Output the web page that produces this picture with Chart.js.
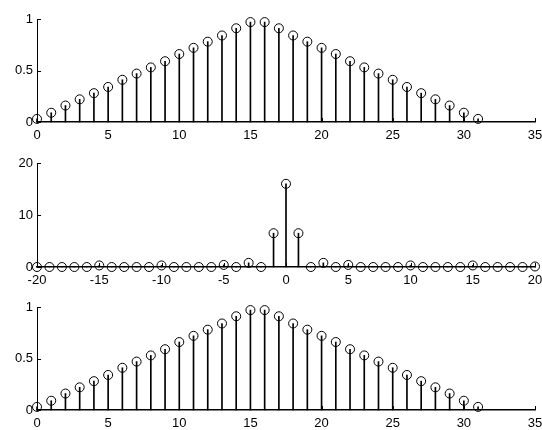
<!DOCTYPE html>
<html>
<head>
<meta charset="utf-8">
<script src="https://cdn.jsdelivr.net/npm/chart.js@4.4.1/dist/chart.umd.min.js"></script>
<style>
  html, body { margin: 0; padding: 0; background: #fff; }
  #wrap { position: relative; width: 542px; height: 430px; }
  #wrap canvas { position: absolute; left: 0; top: 0; }
</style>
</head>
<body>
<div id="wrap">
  <canvas id="win1" width="542" height="430"></canvas>
  <canvas id="spec" width="542" height="430"></canvas>
  <canvas id="win2" width="542" height="430"></canvas>
</div>
<script>
// triangular window, n = 0..31
const nWin = [0,1,2,3,4,5,6,7,8,9,10,11,12,13,14,15,16,17,18,19,20,21,22,23,24,25,26,27,28,29,30,31];
const wTop = [0.03,0.09,0.16,0.22,0.28,0.34,0.41,0.47,0.53,0.59,0.66,0.72,0.78,0.84,0.91,0.97,
              0.97,0.91,0.84,0.78,0.72,0.66,0.59,0.53,0.47,0.41,0.34,0.28,0.22,0.16,0.09,0.03];
const wBottom = [0.03,0.09,0.16,0.22,0.28,0.34,0.41,0.47,0.53,0.59,0.66,0.72,0.78,0.84,0.91,0.97,
                 0.97,0.91,0.84,0.78,0.72,0.66,0.59,0.53,0.47,0.41,0.34,0.28,0.22,0.16,0.09,0.03];

// spectrum magnitude, k = -20..20
const kSpec = [-20,-19,-18,-17,-16,-15,-14,-13,-12,-11,-10,-9,-8,-7,-6,-5,-4,-3,-2,-1,
               0,1,2,3,4,5,6,7,8,9,10,11,12,13,14,15,16,17,18,19,20];
const magSpec = [0,0,0,0,0,0.3,0,0,0,0,0.3,0,0,0,0,0.4,0,0.8,0,6.5,
                 16,6.5,0,0.8,0,0.4,0,0,0,0,0.3,0,0,0,0,0.3,0,0,0,0,0.1];

const xTicksWin = [0,5,10,15,20,25,30,35];
const yTicksWin = [0,0.5,1];
const xTicksSpec = [-20,-15,-10,-5,0,5,10,15,20];
const yTicksSpec = [0,10,20];

const FONT = { family: 'Liberation Sans, Arial, sans-serif', size: 13 };

// matlab style ticks pointing into the plot
const innerTicks = {
  id: 'innerTicks',
  afterDraw(chart) {
    const { ctx, chartArea, scales } = chart;
    ctx.save();
    ctx.strokeStyle = '#000';
    ctx.lineWidth = 1;
    ctx.beginPath();
    scales.x.ticks.forEach(t => {
      const px = Math.round(scales.x.getPixelForValue(t.value)) + 0.5;
      ctx.moveTo(px, chartArea.bottom);
      ctx.lineTo(px, chartArea.bottom - 4);
    });
    scales.y.ticks.forEach(t => {
      const py = Math.round(scales.y.getPixelForValue(t.value)) + 0.5;
      ctx.moveTo(chartArea.left, py);
      ctx.lineTo(chartArea.left + 4, py);
    });
    ctx.stroke();
    ctx.restore();
  }
};

function stemPlot(id, xs, ys, xTicks, yTicks, padTop, padBottom) {
  const pts = xs.map((x, i) => ({ x: x, y: ys[i] }));
  return new Chart(document.getElementById(id), {
    type: 'bar',
    data: {
      datasets: [
        {
          type: 'line',
          data: pts,
          showLine: false,
          pointRadius: 4.5,
          pointBorderWidth: 1,
          pointBorderColor: '#000',
          pointBackgroundColor: 'rgba(0,0,0,0)',
          clip: false
        },
        {
          type: 'bar',
          data: pts,
          backgroundColor: '#000',
          barThickness: 1,
          clip: false
        }
      ]
    },
    options: {
      responsive: false,
      animation: false,
      layout: { padding: { top: padTop, bottom: padBottom, right: 7, left: 0 } },
      plugins: { legend: { display: false }, tooltip: { enabled: false } },
      scales: {
        x: {
          type: 'linear',
          offset: false,
          min: xTicks[0],
          max: xTicks[xTicks.length - 1],
          afterBuildTicks: s => { s.ticks = xTicks.map(v => ({ value: v })); },
          afterFit: s => { s.height = 18; s.paddingLeft = 0; s.paddingRight = 0; },
          grid: { display: false, drawTicks: false, offset: false },
          border: { display: true, color: '#000', width: 1.5 },
          ticks: { color: '#000', font: FONT, padding: 6, maxRotation: 0, callback: v => String(v) }
        },
        y: {
          min: yTicks[0],
          max: yTicks[yTicks.length - 1],
          afterBuildTicks: s => { s.ticks = yTicks.map(v => ({ value: v })); },
          afterFit: s => { s.width = 37; },
          grid: { display: false, drawTicks: false },
          border: { display: true, color: '#000', width: 1 },
          ticks: { color: '#000', font: FONT, padding: 4, callback: v => String(v) }
        }
      }
    },
    plugins: [innerTicks]
  });
}

stemPlot('win1', nWin, wTop, xTicksWin, yTicksWin, 19, 290);
stemPlot('spec', kSpec, magSpec, xTicksSpec, yTicksSpec, 163, 145);
stemPlot('win2', nWin, wBottom, xTicksWin, yTicksWin, 307, 2);
</script>
</body>
</html>
